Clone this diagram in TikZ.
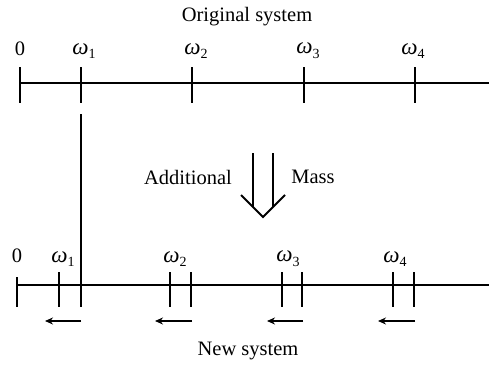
\documentclass[tikz,border=0pt]{standalone}
\usepackage{fontspec}
\setmainfont{Liberation Serif}
\usetikzlibrary{arrows.meta}
\newcommand{\omg}[1]{{\fontsize{23}{24}\selectfont\textit{ω}}\raisebox{-0.5ex}{\fontsize{14}{14}\selectfont #1}}

\begin{document}
\begin{tikzpicture}[x=1pt, y=-1pt, line width=1.3pt,
  every node/.style={inner sep=0pt, font=\fontsize{20.5}{24}\selectfont}]
  \useasboundingbox (0,0) rectangle (489,367);

  % original system
  \node (top) at (247,17) {Original system};
  \coordinate (oL) at (20,83);
  \coordinate (oR) at (489,83);
  \draw (oL) -- (oR);
  \draw (20,67) -- (20,103);
  \draw (81,67) -- (81,103);
  \draw (192,67) -- (192,103);
  \draw (304,67) -- (304,103);
  \draw (415,67) -- (415,103);
  \node (o0) at (20,49) {0};
  \node (o1) at (84,51) {\omg{1}};
  \node (o2) at (196,51) {\omg{2}};
  \node (o3) at (308,51) {\omg{3}};
  \node (o4) at (413,51) {\omg{4}};

  % guide line down from omega_1
  \coordinate (g1) at (81,114);
  \coordinate (g2) at (81,307);
  \draw (g1) -- (g2);

  % additional mass arrow
  \node (add) at (188,177) {Additional};
  \node (mass) at (313,177) {Mass};
  \coordinate (dl) at (253,153);
  \coordinate (dr) at (273,153);
  \coordinate (tip) at (263,217);
  \draw[line width=2pt] (dl) -- (253,207);
  \draw[line width=2pt] (dr) -- (273,207);
  \draw[line width=2pt, line join=miter] (241,195) -- (tip) -- (285,195);

  % new system
  \coordinate (nL) at (17,285);
  \coordinate (nR) at (489,285);
  \draw (nL) -- (nR);
  \draw (17,277) -- (17,307);
  \draw (59,272) -- (59,307);
  \draw (170,272) -- (170,307);
  \draw (191,272) -- (191,307);
  \draw (282,272) -- (282,307);
  \draw (302,272) -- (302,307);
  \draw (393,272) -- (393,307);
  \draw (414,272) -- (414,307);
  \node (n0) at (17,256) {0};
  \node (n1) at (63,259) {\omg{1}};
  \node (n2) at (175,259) {\omg{2}};
  \node (n3) at (288,259) {\omg{3}};
  \node (n4) at (395,259) {\omg{4}};

  \coordinate (a1) at (81,321);  \coordinate (b1) at (45,321);
  \coordinate (a2) at (192,321); \coordinate (b2) at (155,321);
  \coordinate (a3) at (303,321); \coordinate (b3) at (267,321);
  \coordinate (a4) at (415,321); \coordinate (b4) at (378,321);
  \draw[-{Stealth[length=8pt,width=7pt]}] (a1) -- (b1);
  \draw[-{Stealth[length=8pt,width=7pt]}] (a2) -- (b2);
  \draw[-{Stealth[length=8pt,width=7pt]}] (a3) -- (b3);
  \draw[-{Stealth[length=8pt,width=7pt]}] (a4) -- (b4);

  \node (bot) at (248,351) {New system};
\end{tikzpicture}
\end{document}
